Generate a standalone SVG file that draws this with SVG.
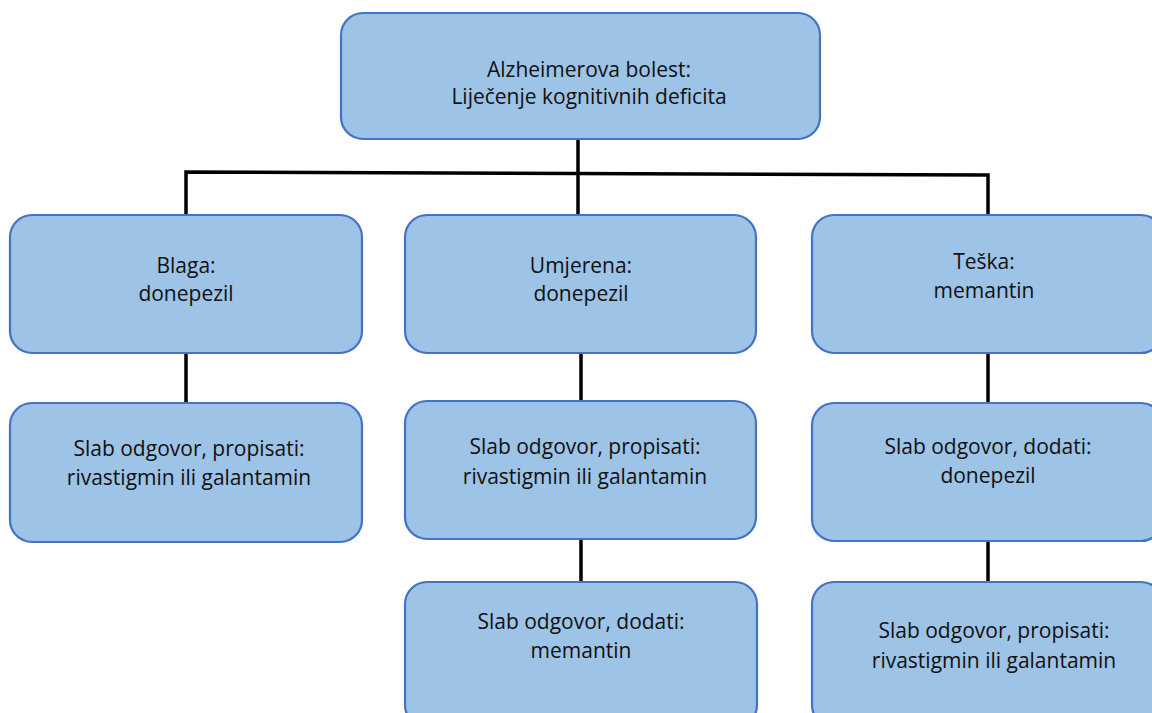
<svg xmlns="http://www.w3.org/2000/svg" width="1152" height="713" viewBox="0 0 1152 713">
<style>
.box{fill:#9DC3E6;stroke:#4472C4;stroke-width:2.2}
.t{font-family:"Open Sans","Liberation Sans",sans-serif;font-size:21px;fill:#111;text-anchor:middle}
.c{stroke:#000;stroke-width:3.5;fill:none}
</style>
<rect width="1152" height="713" fill="#fff"/>
<g id="connectors">
<line class="c" x1="578" y1="139" x2="578" y2="215"/>
<polyline class="c" points="186,215 186,172 988,175 988,215"/>
<line class="c" x1="186" y1="353" x2="186" y2="403"/>
<line class="c" x1="581" y1="353" x2="581" y2="401"/>
<line class="c" x1="581" y1="539" x2="581" y2="582"/>
<line class="c" x1="988" y1="353" x2="988" y2="403"/>
<line class="c" x1="988" y1="541" x2="988" y2="582"/>
</g>
<g id="root">
<rect class="box" x="341" y="13" width="479" height="126" rx="22"/>
<text class="t" x="589" y="77">Alzheimerova bolest:</text>
<text class="t" x="589" y="104">Liječenje kognitivnih deficita</text>
</g>
<g id="blaga">
<rect class="box" x="10" y="215" width="352" height="138" rx="22"/>
<text class="t" x="186" y="273">Blaga:</text>
<text class="t" x="186" y="301">donepezil</text>
</g>
<g id="blaga2">
<rect class="box" x="10" y="403" width="352" height="139" rx="22"/>
<text class="t" x="189" y="456">Slab odgovor, propisati:</text>
<text class="t" x="189" y="485">rivastigmin ili galantamin</text>
</g>
<g id="umjerena">
<rect class="box" x="405" y="215" width="351" height="138" rx="22"/>
<text class="t" x="581" y="273">Umjerena:</text>
<text class="t" x="581" y="301">donepezil</text>
</g>
<g id="umjerena2">
<rect class="box" x="405" y="401" width="351" height="138" rx="22"/>
<text class="t" x="585" y="454">Slab odgovor, propisati:</text>
<text class="t" x="585" y="484">rivastigmin ili galantamin</text>
</g>
<g id="umjerena3">
<rect class="box" x="405" y="582" width="352" height="145" rx="22"/>
<text class="t" x="581" y="629">Slab odgovor, dodati:</text>
<text class="t" x="581" y="658">memantin</text>
</g>
<g id="teska">
<rect class="box" x="812" y="215" width="351" height="138" rx="22"/>
<text class="t" x="984" y="269">Teška:</text>
<text class="t" x="984" y="298">memantin</text>
</g>
<g id="teska2">
<rect class="box" x="812" y="403" width="351" height="138" rx="22"/>
<text class="t" x="988" y="454">Slab odgovor, dodati:</text>
<text class="t" x="988" y="483">donepezil</text>
</g>
<g id="teska3">
<rect class="box" x="812" y="582" width="351" height="145" rx="22"/>
<text class="t" x="994" y="638">Slab odgovor, propisati:</text>
<text class="t" x="994" y="668">rivastigmin ili galantamin</text>
</g>
</svg>
